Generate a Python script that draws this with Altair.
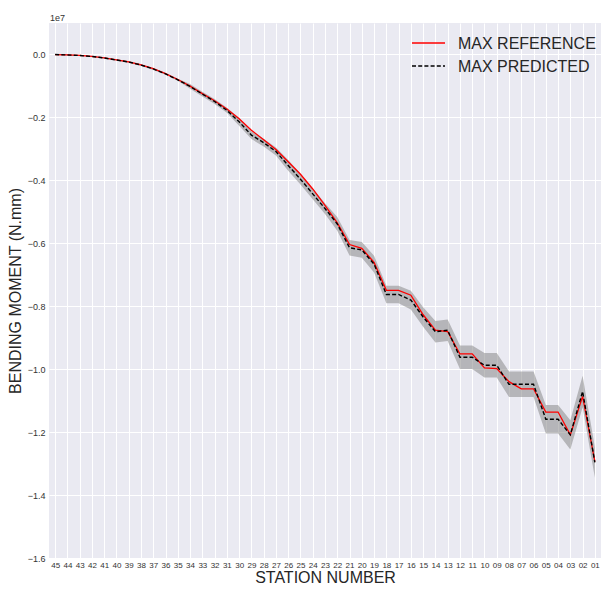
import altair as alt
import pandas as pd

stations = ["45", "44", "43", "42", "41", "40", "39", "38", "37", "36",
            "35", "34", "33", "32", "31", "30", "29", "28", "27", "26",
            "25", "24", "23", "22", "21", "20", "19", "18", "17", "16",
            "15", "14", "13", "12", "11", "10", "09", "08", "07", "06",
            "05", "04", "03", "02", "01"]

max_reference = [-5.0e3, -1.6e4, -3.1e4, -6.2e4, -1.09e5, -1.71e5, -2.33e5, -3.27e5, -4.51e5, -6.07e5,
                 -7.94e5, -1.005e6, -1.245e6, -1.472e6, -1.734e6, -2.045e6, -2.406e6, -2.708e6, -3.019e6, -3.409e6,
                 -3.807e6, -4.274e6, -4.794e6, -5.354e6, -6.039e6, -6.163e6, -6.609e6, -7.493e6, -7.493e6, -7.648e6,
                 -8.271e6, -8.763e6, -8.809e6, -9.516e6, -9.516e6, -9.961e6, -9.983e6, -1.0397e7, -1.0624e7, -1.0624e7,
                 -1.1362e7, -1.1362e7, -1.2087e7, -1.0864e7, -1.2940e7]

max_predicted = [-3.0e3, -1.5e4, -3.3e4, -6.5e4, -1.12e5, -1.75e5, -2.40e5, -3.35e5, -4.60e5, -6.15e5,
                 -8.05e5, -1.015e6, -1.260e6, -1.495e6, -1.774e6, -2.139e6, -2.562e6, -2.802e6, -3.082e6, -3.527e6,
                 -3.963e6, -4.430e6, -4.896e6, -5.385e6, -6.142e6, -6.210e6, -6.661e6, -7.626e6, -7.626e6, -7.804e6,
                 -8.342e6, -8.809e6, -8.763e6, -9.619e6, -9.619e6, -9.877e6, -9.877e6, -1.0481e7, -1.0481e7, -1.0481e7,
                 -1.1589e7, -1.1589e7, -1.2087e7, -1.0708e7, -1.2965e7]

band_halfwidth = [1.6e4, 1.6e4, 1.6e4, 1.6e4, 1.6e4, 1.6e4, 3.1e4, 3.1e4, 3.1e4, 3.1e4,
                  3.1e4, 7.8e4, 7.8e4, 7.8e4, 7.8e4, 1.25e5, 1.25e5, 1.25e5, 1.25e5, 1.71e5,
                  1.71e5, 1.71e5, 1.71e5, 2.18e5, 2.49e5, 2.49e5, 2.65e5, 2.80e5, 2.80e5, 2.96e5,
                  3.11e5, 3.42e5, 3.42e5, 3.74e5, 3.74e5, 3.89e5, 3.89e5, 4.05e5, 4.05e5, 4.05e5,
                  4.51e5, 4.51e5, 4.67e5, 4.98e5, 4.82e5]

y_ticks = [-1.6e7, -1.4e7, -1.2e7, -1.0e7, -0.8e7, -0.6e7, -0.4e7, -0.2e7, 0.0]
legend_labels = ["MAX REFERENCE", "MAX PREDICTED"]

FONT = "Liberation Sans"
DARK = "#262626"

df_ref = pd.DataFrame({"station": stations, "value": max_reference})
df_pred = pd.DataFrame({"station": stations, "value": max_predicted})
df_band = pd.DataFrame({
    "station": stations,
    "lo": [p - h for p, h in zip(max_predicted, band_halfwidth)],
    "hi": [p + h for p, h in zip(max_predicted, band_halfwidth)],
})

x_enc = alt.X(
    "station:N",
    sort=stations,
    scale=alt.Scale(type="point", padding=0.5),
    axis=alt.Axis(
        title="STATION NUMBER", labelAngle=0, labelFontSize=8, labelPadding=3,
        titlePadding=0, grid=True,
    ),
)

y_scale = alt.Scale(domain=[-1.6e7, 0.1e7], nice=False, zero=False)
y_axis = alt.Axis(
    title="BENDING MOMENT (N.mm)", values=y_ticks, labelFontSize=9, labelPadding=4,
    titlePadding=4, grid=True,
    labelExpr="replace(format(datum.value / 1e7, '.1f'), '-', '\u2212')",
)

band = alt.Chart(df_band).mark_area(color="#808080", opacity=0.5).encode(
    x=x_enc,
    y=alt.Y("lo:Q", scale=y_scale, axis=y_axis),
    y2="hi:Q",
)

ref_line = alt.Chart(df_ref).mark_line(strokeWidth=1.3, color="#ff0000").encode(
    x=x_enc,
    y=alt.Y("value:Q", scale=y_scale, axis=y_axis),
)

pred_line = alt.Chart(df_pred).mark_line(strokeWidth=1.4, color="#000000", strokeDash=[4, 2.2]).encode(
    x=x_enc,
    y=alt.Y("value:Q", scale=y_scale, axis=y_axis),
)

# manual legend (top-right, no frame)
leg_df1 = pd.DataFrame({"label": [legend_labels[0]]})
leg_df2 = pd.DataFrame({"label": [legend_labels[1]]})
leg_line1 = alt.Chart(leg_df1).mark_rule(color="#ff0000", strokeWidth=1.3).encode(
    x=alt.value(363), x2=alt.value(396), y=alt.value(20))
leg_line2 = alt.Chart(leg_df2).mark_rule(color="#000000", strokeWidth=1.4, strokeDash=[4, 2.2]).encode(
    x=alt.value(363), x2=alt.value(396), y=alt.value(43))
leg_text1 = alt.Chart(leg_df1).mark_text(
    align="left", baseline="middle", fontSize=16, font=FONT, color=DARK
).encode(x=alt.value(409), y=alt.value(21), text="label:N")
leg_text2 = alt.Chart(leg_df2).mark_text(
    align="left", baseline="middle", fontSize=16, font=FONT, color=DARK
).encode(x=alt.value(409), y=alt.value(44), text="label:N")

offset_text = alt.Chart(pd.DataFrame({"t": ["1e7"]})).mark_text(
    align="left", baseline="middle", fontSize=9, font=FONT, color="#333333"
).encode(x=alt.value(1), y=alt.value(-5), text="t:N")

chart = alt.layer(
    band, ref_line, pred_line, leg_line1, leg_line2, leg_text1, leg_text2, offset_text
).properties(
    width=552, height=535,
    autosize=alt.AutoSizeParams(type="none"),
    padding={"left": 41, "top": 15, "right": 0, "bottom": 30},
    background="white",
).configure_view(
    fill="#EAEAF2", stroke=None,
).configure_axis(
    domain=False, ticks=False, gridColor="white", gridWidth=1,
    labelFont=FONT, labelColor="#333333", titleFont=FONT, titleFontSize=16,
    titleFontWeight="normal", titleColor=DARK,
)

chart.save("out.html", embed_options={"renderer": "svg", "actions": False})
